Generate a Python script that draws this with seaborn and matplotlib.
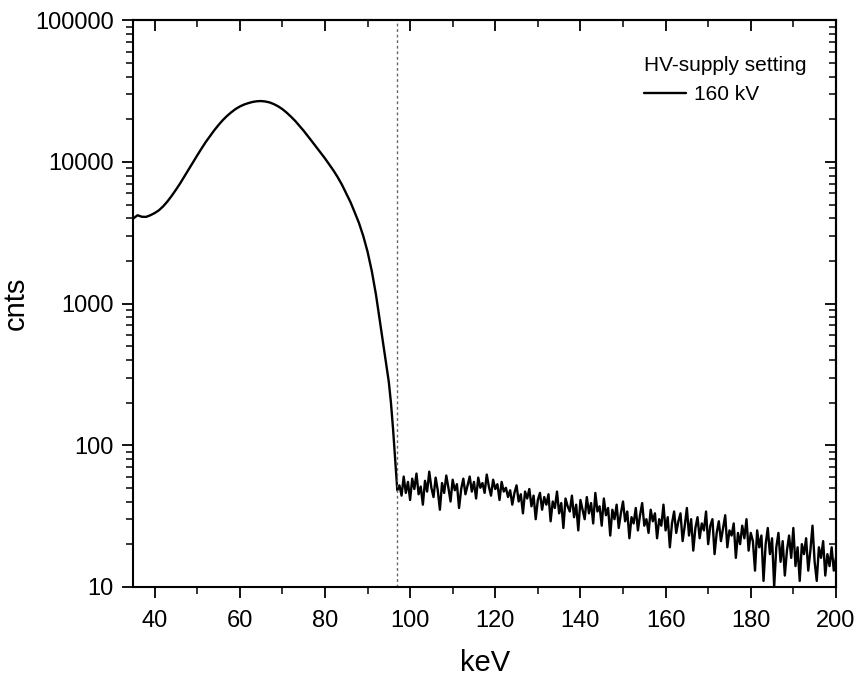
import numpy as np
import pandas as pd
import matplotlib
matplotlib.use("Agg")
import matplotlib.pyplot as plt
import matplotlib.ticker as mticker
import seaborn as sns

# smooth part of the spectrum (keV, counts)
kev_smooth = [35, 36, 37, 38, 39, 40, 41, 42, 43, 44, 45, 46, 47, 48, 49,
              50, 51, 52, 53, 54, 55, 56, 57, 58, 59, 60, 61, 62, 63, 64,
              65, 66, 67, 68, 69, 70, 71, 72, 73, 74, 75, 76, 77, 78, 79,
              80, 81, 82, 83, 84, 85, 86, 87, 88, 89, 90, 91, 92, 93, 94,
              95, 95.5, 96, 96.5, 97]
cnts_smooth = [3990, 4200, 4100, 4090, 4200, 4350, 4550, 4850, 5250, 5750,
               6350, 7050, 7900, 8850, 9950, 11100, 12400, 13800, 15200, 16700,
               18200, 19700, 21100, 22400, 23600, 24600, 25400, 26000, 26500, 26800,
               26900, 26700, 26300, 25600, 24700, 23600, 22300, 20900, 19500, 18000,
               16600, 15200, 13900, 12700, 11600, 10600, 9600, 8700, 7800, 6900,
               6000, 5200, 4400, 3700, 3000, 2330, 1700, 1150, 720, 450,
               280, 200, 130, 80, 48]

# noisy tail above the cut-off, 0.5 keV channels from 97.5 to 200 keV
kev_tail = np.arange(97.5, 200.01, 0.5)
cnts_tail = [
    52, 44, 60, 46, 55, 41, 58, 49, 63, 45,
    51, 38, 56, 47, 65, 50, 43, 59, 48, 35,
    54, 46, 61, 50, 40, 57, 48, 53, 36, 49,
    58, 45, 52, 60, 47, 55, 42, 59, 50, 54,
    46, 62, 51, 44, 57, 49, 53, 41, 55, 47,
    50, 43, 48, 38, 46, 52, 40, 45, 33, 47,
    42, 49, 37, 44, 30, 41, 46, 35, 43, 38,
    45, 29, 40, 36, 47, 33, 39, 26, 42, 37,
    34, 44, 31, 38, 25, 41, 35, 30, 43, 33,
    39, 28, 46, 34, 37, 27, 42, 32, 36, 23,
    35, 30, 38, 26, 33, 40, 29, 34, 22, 31,
    28, 36, 25, 32, 39, 27, 30, 24, 35, 29,
    33, 22, 30, 27, 38, 25, 31, 19, 28, 34,
    24, 29, 33, 21, 27, 36, 23, 30, 18, 26,
    31, 22, 28, 25, 34, 20, 27, 30, 17, 24,
    29, 21, 26, 32, 19, 25, 23, 28, 16, 24,
    20, 27, 22, 30, 18, 24, 21, 13, 25, 19,
    23, 11, 20, 26, 17, 22, 10, 19, 24, 15,
    21, 12, 18, 23, 16, 26, 14, 19, 11, 20,
    17, 22, 13, 18, 27, 15, 11, 19, 16, 21,
    12, 17, 14, 19, 13, 16,
]

cutoff = 97
setting = "160 kV"

df = pd.DataFrame({
    "keV": list(kev_smooth) + list(kev_tail),
    "cnts": cnts_smooth + cnts_tail,
})
df["setting"] = setting

sns.set_style("ticks")
plt.rcParams["font.family"] = ["Liberation Sans", "DejaVu Sans"]
plt.rcParams["text.color"] = "black"
plt.rcParams["axes.labelcolor"] = "black"

fig = plt.figure(figsize=(8.6, 6.76), dpi=100)
ax = fig.add_axes([0.155, 0.132, 0.817, 0.838])

sns.lineplot(data=df, x="keV", y="cnts", hue="setting", palette=["black"],
             estimator=None, sort=False, linewidth=1.7, ax=ax)
ax.axvline(cutoff, color="#666666", linestyle=(0, (2, 2)), linewidth=1.0)

ax.set_yscale("log")
ax.set_xlim(35, 200)
ax.set_ylim(10, 100000)

ax.xaxis.set_major_locator(mticker.MultipleLocator(20))
ax.xaxis.set_minor_locator(mticker.MultipleLocator(10))
ax.yaxis.set_major_locator(mticker.LogLocator(base=10, numticks=10))
ax.yaxis.set_minor_locator(mticker.LogLocator(base=10, subs=np.arange(2, 10), numticks=10))
ax.yaxis.set_major_formatter(mticker.FuncFormatter(lambda v, p: f"{v:.0f}"))
ax.yaxis.set_minor_formatter(mticker.NullFormatter())

ax.tick_params(which="major", direction="out", length=8, width=1.3, labelsize=17,
               colors="black")
ax.tick_params(which="minor", direction="out", length=5, width=1.1, colors="black")
ax.tick_params(axis="x", which="major", pad=9)
ax.tick_params(axis="y", which="major", pad=6)

top = ax.secondary_xaxis("top")
top.xaxis.set_major_locator(mticker.MultipleLocator(20))
top.xaxis.set_minor_locator(mticker.MultipleLocator(10))
top.tick_params(which="major", direction="in", length=8, width=1.3, labeltop=False,
                colors="black")
top.tick_params(which="minor", direction="in", length=5, width=1.1, colors="black")

right = ax.secondary_yaxis("right")
right.yaxis.set_major_locator(mticker.LogLocator(base=10, numticks=10))
right.yaxis.set_minor_locator(mticker.LogLocator(base=10, subs=np.arange(2, 10), numticks=10))
right.yaxis.set_major_formatter(mticker.NullFormatter())
right.yaxis.set_minor_formatter(mticker.NullFormatter())
right.tick_params(which="major", direction="in", length=8, width=1.3, colors="black")
right.tick_params(which="minor", direction="in", length=5, width=1.1, colors="black")

for sp in list(ax.spines.values()) + [top.spines["top"], right.spines["right"]]:
    sp.set_linewidth(1.5)
    sp.set_color("black")

ax.set_xlabel("keV", fontsize=21, labelpad=12)
ax.set_ylabel("cnts", fontsize=21, labelpad=4)

leg = ax.legend(title="HV-supply setting", frameon=False, loc="upper right",
                bbox_to_anchor=(0.985, 0.97), fontsize=15, title_fontsize=15,
                handlelength=2.0, handletextpad=0.4, alignment="left")

fig.savefig("out.png", dpi=100)
